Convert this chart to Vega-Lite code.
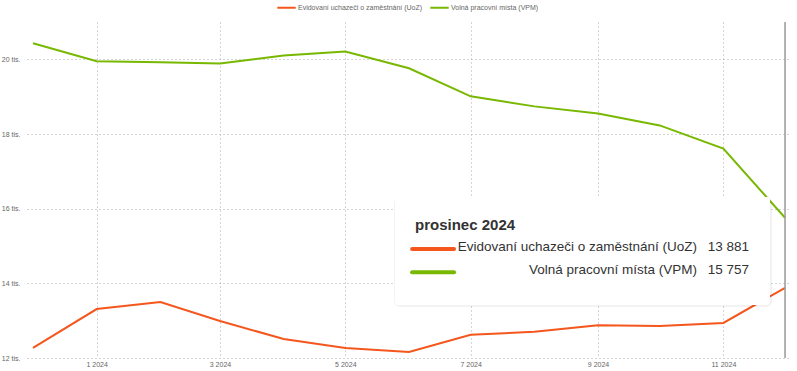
{
  "$schema": "https://vega.github.io/schema/vega-lite/v6.json",
  "width": 763,
  "height": 336,
  "autosize": {"type": "none"},
  "padding": {"left": 27, "top": 22, "right": 7, "bottom": 13},
  "background": "white",
  "config": {
    "font": "Liberation Sans",
    "view": {"stroke": null},
    "locale": {"number": {"decimal": ",", "thousands": " ", "grouping": [3], "currency": ["", " Kč"]}}
  },
  "data": {"values": [
    {"date": "2023-12-01T00:00", "series": "Evidovaní uchazeči o zaměstnání (UoZ)", "value": 12270},
    {"date": "2024-01-01T00:00", "series": "Evidovaní uchazeči o zaměstnání (UoZ)", "value": 13310},
    {"date": "2024-02-01T00:00", "series": "Evidovaní uchazeči o zaměstnání (UoZ)", "value": 13500},
    {"date": "2024-03-01T00:00", "series": "Evidovaní uchazeči o zaměstnání (UoZ)", "value": 12990},
    {"date": "2024-04-01T00:00", "series": "Evidovaní uchazeči o zaměstnání (UoZ)", "value": 12510},
    {"date": "2024-05-01T00:00", "series": "Evidovaní uchazeči o zaměstnání (UoZ)", "value": 12270},
    {"date": "2024-06-01T00:00", "series": "Evidovaní uchazeči o zaměstnání (UoZ)", "value": 12160},
    {"date": "2024-07-01T00:00", "series": "Evidovaní uchazeči o zaměstnání (UoZ)", "value": 12620},
    {"date": "2024-08-01T00:00", "series": "Evidovaní uchazeči o zaměstnání (UoZ)", "value": 12700},
    {"date": "2024-09-01T00:00", "series": "Evidovaní uchazeči o zaměstnání (UoZ)", "value": 12880},
    {"date": "2024-10-01T00:00", "series": "Evidovaní uchazeči o zaměstnání (UoZ)", "value": 12860},
    {"date": "2024-11-01T00:00", "series": "Evidovaní uchazeči o zaměstnání (UoZ)", "value": 12940},
    {"date": "2024-12-01T00:00", "series": "Evidovaní uchazeči o zaměstnání (UoZ)", "value": 13881},
    {"date": "2023-12-01T00:00", "series": "Volná pracovní místa (VPM)", "value": 20430},
    {"date": "2024-01-01T00:00", "series": "Volná pracovní místa (VPM)", "value": 19950},
    {"date": "2024-02-01T00:00", "series": "Volná pracovní místa (VPM)", "value": 19920},
    {"date": "2024-03-01T00:00", "series": "Volná pracovní místa (VPM)", "value": 19890},
    {"date": "2024-04-01T00:00", "series": "Volná pracovní místa (VPM)", "value": 20100},
    {"date": "2024-05-01T00:00", "series": "Volná pracovní místa (VPM)", "value": 20210},
    {"date": "2024-06-01T00:00", "series": "Volná pracovní místa (VPM)", "value": 19760},
    {"date": "2024-07-01T00:00", "series": "Volná pracovní místa (VPM)", "value": 19010},
    {"date": "2024-08-01T00:00", "series": "Volná pracovní místa (VPM)", "value": 18740},
    {"date": "2024-09-01T00:00", "series": "Volná pracovní místa (VPM)", "value": 18550},
    {"date": "2024-10-01T00:00", "series": "Volná pracovní místa (VPM)", "value": 18230},
    {"date": "2024-11-01T00:00", "series": "Volná pracovní místa (VPM)", "value": 17610},
    {"date": "2024-12-01T00:00", "series": "Volná pracovní místa (VPM)", "value": 15757}
  ]},
  "layer": [
    {
      "mark": {"type": "line", "strokeWidth": 2},
      "encoding": {
        "x": {
          "field": "date", "type": "temporal",
          "scale": {"domain": ["2023-11-28T02:00", "2024-12-03T10:00"], "nice": false},
          "axis": {
            "title": null,
            "values": ["2024-01-01T00:00", "2024-03-01T00:00", "2024-05-01T00:00", "2024-07-01T00:00", "2024-09-01T00:00", "2024-11-01T00:00"],
            "format": "%-m %Y",
            "grid": true, "gridDash": [1, 3], "gridColor": "#aaa", "gridWidth": 1,
            "domain": false, "ticks": false,
            "labelFontSize": 7, "labelColor": "#666", "labelPadding": 2
          }
        },
        "y": {
          "field": "value", "type": "quantitative",
          "scale": {"domain": [12000, 21000], "nice": false, "zero": false},
          "axis": {
            "title": null,
            "values": [12000, 14000, 16000, 18000, 20000],
            "labelExpr": "(datum.value / 1000) + ' tis.'",
            "grid": true, "gridDash": [1, 3], "gridColor": "#aaa", "gridWidth": 1,
            "domain": false, "ticks": false,
            "labelFontSize": 7, "labelColor": "#666", "labelPadding": 7
          }
        },
        "color": {
          "field": "series", "type": "nominal",
          "scale": {"domain": ["Evidovaní uchazeči o zaměstnání (UoZ)", "Volná pracovní místa (VPM)"], "range": ["#f4561d", "#78b800"]},
          "legend": {
            "title": null, "orient": "none", "direction": "horizontal",
            "legendX": 249, "legendY": -25,
            "symbolType": "stroke", "symbolStrokeWidth": 2, "symbolSize": 340,
            "labelFontSize": 7, "labelColor": "#666", "labelOffset": 1,
            "columnPadding": 3
          }
        }
      }
    },
    {
      "data": {"values": [{}]},
      "mark": {"type": "rule", "color": "#999", "strokeWidth": 1.5},
      "encoding": {"x": {"datum": {"year": 2024, "month": 12, "date": 1}}}
    },
    {
      "data": {"values": [{}]},
      "mark": {"type": "rect", "fill": "#000", "fillOpacity": 0.05, "stroke": "#000", "strokeOpacity": 0.05, "strokeWidth": 4, "cornerRadius": 4, "xOffset": 1, "yOffset": 2},
      "encoding": {
        "x": {"datum": {"year": 2024, "month": 5, "date": 25, "hours": 5}},
        "x2": {"datum": {"year": 2024, "month": 11, "date": 23, "hours": 17}},
        "y": {"datum": 16313},
        "y2": {"datum": 13420}
      }
    },
    {
      "data": {"values": [{}]},
      "mark": {"type": "rect", "fill": "#fff", "cornerRadius": 3},
      "encoding": {
        "x": {"datum": {"year": 2024, "month": 5, "date": 25, "hours": 5}},
        "x2": {"datum": {"year": 2024, "month": 11, "date": 23, "hours": 17}},
        "y": {"datum": 16313},
        "y2": {"datum": 13420}
      }
    },
    {
      "data": {"values": [{}]},
      "mark": {"type": "text", "align": "left", "baseline": "middle", "fontSize": 15, "fontWeight": "bold", "color": "#333"},
      "encoding": {
        "x": {"datum": {"year": 2024, "month": 6, "date": 3, "hours": 22}},
        "y": {"datum": 15560},
        "text": {"value": "prosinec 2024"}
      }
    },
    {
      "transform": [
        {"filter": {"field": "date", "equal": {"year": 2024, "month": 12, "date": 1}}},
        {"filter": {"field": "series", "equal": "Evidovaní uchazeči o zaměstnání (UoZ)"}}
      ],
      "layer": [
        {
          "mark": {"type": "rule", "strokeWidth": 4, "strokeCap": "round"},
          "encoding": {
            "x": {"datum": {"year": 2024, "month": 6, "date": 2, "hours": 12}},
            "x2": {"datum": {"year": 2024, "month": 6, "date": 22, "hours": 22}},
            "y": {"datum": 14920},
            "color": {"field": "series", "type": "nominal"}
          }
        },
        {
          "mark": {"type": "text", "align": "right", "baseline": "middle", "fontSize": 13.5, "color": "#333"},
          "encoding": {
            "x": {"datum": {"year": 2024, "month": 10, "date": 19, "hours": 5}},
            "y": {"datum": 14973},
            "text": {"field": "series"}
          }
        },
        {
          "mark": {"type": "text", "align": "right", "baseline": "middle", "fontSize": 13.5, "color": "#333"},
          "encoding": {
            "x": {"datum": {"year": 2024, "month": 11, "date": 13, "hours": 12}},
            "y": {"datum": 14973},
            "text": {"field": "value", "type": "quantitative", "format": ",d"}
          }
        }
      ]
    },
    {
      "transform": [
        {"filter": {"field": "date", "equal": {"year": 2024, "month": 12, "date": 1}}},
        {"filter": {"field": "series", "equal": "Volná pracovní místa (VPM)"}}
      ],
      "layer": [
        {
          "mark": {"type": "rule", "strokeWidth": 4, "strokeCap": "round"},
          "encoding": {
            "x": {"datum": {"year": 2024, "month": 6, "date": 2, "hours": 12}},
            "x2": {"datum": {"year": 2024, "month": 6, "date": 22, "hours": 22}},
            "y": {"datum": 14300},
            "color": {"field": "series", "type": "nominal"}
          }
        },
        {
          "mark": {"type": "text", "align": "right", "baseline": "middle", "fontSize": 13.5, "color": "#333"},
          "encoding": {
            "x": {"datum": {"year": 2024, "month": 10, "date": 19, "hours": 5}},
            "y": {"datum": 14357},
            "text": {"field": "series"}
          }
        },
        {
          "mark": {"type": "text", "align": "right", "baseline": "middle", "fontSize": 13.5, "color": "#333"},
          "encoding": {
            "x": {"datum": {"year": 2024, "month": 11, "date": 13, "hours": 12}},
            "y": {"datum": 14357},
            "text": {"field": "value", "type": "quantitative", "format": ",d"}
          }
        }
      ]
    }
  ]
}
